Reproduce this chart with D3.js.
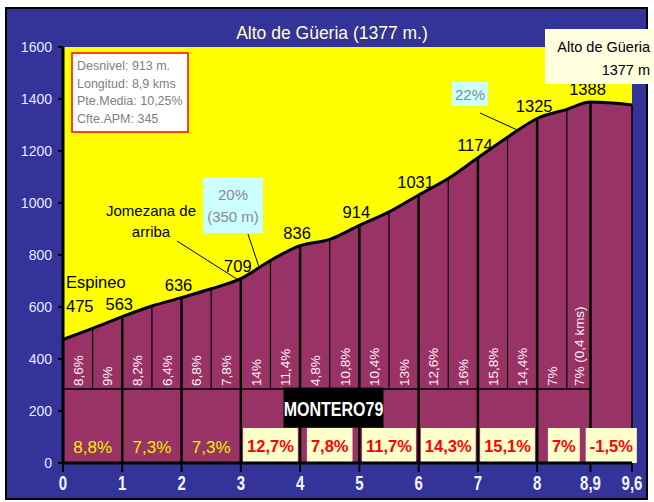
<!DOCTYPE html>
<html>
<head>
<meta charset="utf-8">
<script src="https://cdn.jsdelivr.net/npm/d3@7"></script>
<style>
  body { margin: 0; background: #fff; }
  svg { display: block; font-family: "Liberation Sans", Arial, sans-serif; }
  .narrow { font-family: "Liberation Sans", Arial, sans-serif; font-weight: bold; }
</style>
</head>
<body>
<div id="chart"></div>
<script>
// Profile points (km, elevation)
const profileKm = [0, 0.5, 1, 1.5, 2, 2.5, 3, 3.5, 4, 4.5, 5, 5.5, 6, 6.5, 7, 7.5, 8, 8.5, 8.9, 9.6];
const profileElev = [475, 518, 563, 604, 636, 670, 709, 779, 836, 860, 914, 966, 1031, 1094, 1174, 1253, 1325, 1360, 1388, 1377];

// Labelled elevations at each km mark
const markKm = [0, 1, 2, 3, 4, 5, 6, 7, 8, 8.9];
const markElev = [475, 563, 636, 709, 836, 914, 1031, 1174, 1325, 1388];

// Half-km slopes
const halfStart = [0, 0.5, 1, 1.5, 2, 2.5, 3, 3.5, 4, 4.5, 5, 5.5, 6, 6.5, 7, 7.5, 8, 8.5];
const halfEnd = [0.5, 1, 1.5, 2, 2.5, 3, 3.5, 4, 4.5, 5, 5.5, 6, 6.5, 7, 7.5, 8, 8.5, 8.9];
const halfSlope = ["8,6%", "9%", "8,2%", "6,4%", "6,8%", "7,8%", "14%", "11,4%", "4,8%", "10,8%",
                   "10,4%", "13%", "12,6%", "16%", "15,8%", "14,4%", "7%", "7% (0,4 kms)"];

// Per-km slopes
const kmStart = [0, 1, 2, 3, 4, 5, 6, 7, 8, 8.9];
const kmEnd = [1, 2, 3, 4, 5, 6, 7, 8, 8.9, 9.6];
const kmSlope = ["8,8%", "7,3%", "7,3%", "12,7%", "7,8%", "11,7%", "14,3%", "15,1%", "7%", "-1,5%"];

const xTicks = [0, 1, 2, 3, 4, 5, 6, 7, 8, 8.9, 9.6];
const xTickLabels = ["0", "1", "2", "3", "4", "5", "6", "7", "8", "8,9", "9,6"];
const yTicks = [0, 200, 400, 600, 800, 1000, 1200, 1400, 1600];

const infoLines = ["Desnivel: 913 m.", "Longitud: 8,9 kms", "Pte.Media: 10,25%", "Cfte.APM: 345"];

const W = 654, H = 502;
const svg = d3.select("#chart").append("svg").attr("width", W).attr("height", H);

// frame
svg.append("rect").attr("x", 6).attr("y", 8).attr("width", 641).attr("height", 491)
    .attr("fill", "#333399").attr("stroke", "#000").attr("stroke-width", 2);

const x = d3.scaleLinear().domain([0, 9.6]).range([63, 632]);
const y = d3.scaleLinear().domain([0, 1600]).range([463, 47]);

// title
svg.append("text").attr("x", 332).attr("y", 39).attr("text-anchor", "middle")
    .attr("font-size", 17.5).attr("fill", "#ffffcc").text("Alto de Güeria (1377 m.)");

// plot background
svg.append("rect").attr("x", x(0)).attr("y", y(1600))
    .attr("width", x(9.6) - x(0)).attr("height", y(0) - y(1600)).attr("fill", "#ffff00");

const pts = profileKm.map((k, i) => [k, profileElev[i]]);
const curve = d3.curveMonotoneX;

svg.append("path").datum(pts)
    .attr("fill", "#993366")
    .attr("d", d3.area().x(d => x(d[0])).y0(y(0)).y1(d => y(d[1])).curve(curve));

// elevation lookup (linear between points)
function elevAt(k) {
    const i = d3.bisectRight(profileKm, k) - 1;
    if (i >= profileKm.length - 1) return profileElev[profileElev.length - 1];
    const t = (k - profileKm[i]) / (profileKm[i + 1] - profileKm[i]);
    return profileElev[i] + t * (profileElev[i + 1] - profileElev[i]);
}

const divider = 285;

// horizontal divider
svg.append("line").attr("x1", x(0)).attr("x2", x(8.9))
    .attr("y1", y(divider)).attr("y2", y(divider))
    .attr("stroke", "#000").attr("stroke-width", 1.5);

// half-km thin lines
svg.selectAll("line.half").data(halfStart.filter(k => k % 1 !== 0))
    .join("line").attr("class", "half")
    .attr("x1", d => x(d)).attr("x2", d => x(d))
    .attr("y1", d => y(elevAt(d))).attr("y2", y(divider))
    .attr("stroke", "#000").attr("stroke-width", 1.2);

// km thick lines
svg.selectAll("line.km").data(kmEnd)
    .join("line").attr("class", "km")
    .attr("x1", d => x(d)).attr("x2", d => x(d))
    .attr("y1", d => y(elevAt(d))).attr("y2", y(0))
    .attr("stroke", "#000").attr("stroke-width", d => d === 9.6 ? 1.5 : 2.5);

// profile line
svg.append("path").datum(pts)
    .attr("fill", "none").attr("stroke", "#000").attr("stroke-width", 3)
    .attr("d", d3.line().x(d => x(d[0])).y(d => y(d[1])).curve(curve));

// half-km slope labels (rotated)
svg.selectAll("text.hs").data(halfSlope)
    .join("text").attr("class", "hs")
    .attr("transform", (d, i) => `translate(${x((halfStart[i] + halfEnd[i]) / 2) + 5},${y(divider) - 3}) rotate(-90)`)
    .attr("font-size", 13.5).attr("fill", "#fff0f8").text(d => d);

// per-km slope labels
const kmG = svg.selectAll("g.ks").data(kmSlope).join("g").attr("class", "ks")
    .attr("transform", (d, i) => `translate(${x((kmStart[i] + kmEnd[i]) / 2)},0)`);
kmG.each(function (d, i) {
    const g = d3.select(this);
    if (i < 3) {
        g.append("text").attr("y", 453).attr("text-anchor", "middle")
            .attr("font-size", 17).attr("fill", "#f0f000").text(d);
    } else {
        const r = g.append("rect").attr("fill", "#ffffcc");
        const t = g.append("text").attr("y", 452).attr("text-anchor", "middle")
            .attr("font-size", 16.5).attr("font-weight", "bold").attr("fill", "#ff0000").text(d);
        const w = t.node().getComputedTextLength() + 8;
        r.attr("x", -w / 2).attr("y", 428).attr("width", w).attr("height", 35);
    }
});

// MONTERO79 watermark
svg.append("rect").attr("x", x(3.72)).attr("y", y(290)).attr("width", 100).attr("height", 40).attr("fill", "#000");
svg.append("text").attr("class", "narrow")
    .attr("transform", `translate(${x(3.72) + 50},${y(290) + 28}) scale(0.8,1)`)
    .attr("text-anchor", "middle").attr("font-size", 20).attr("fill", "#fff").text("MONTERO79");

// axes
svg.append("line").attr("x1", x(0)).attr("x2", x(9.6)).attr("y1", y(0)).attr("y2", y(0))
    .attr("stroke", "#000").attr("stroke-width", 3);
svg.append("line").attr("x1", x(0)).attr("x2", x(0)).attr("y1", y(1600)).attr("y2", y(0))
    .attr("stroke", "#000").attr("stroke-width", 3);

svg.selectAll("line.xt").data(xTicks).join("line").attr("class", "xt")
    .attr("x1", d => x(d)).attr("x2", d => x(d)).attr("y1", y(0)).attr("y2", y(0) + 9)
    .attr("stroke", "#000").attr("stroke-width", 2);
svg.selectAll("text.xt").data(xTicks).join("text").attr("class", "xt narrow")
    .attr("transform", d => `translate(${x(d)},490) scale(0.75,1)`)
    .attr("text-anchor", "middle")
    .attr("font-size", 20).attr("fill", "#f4f4ff").text((d, i) => xTickLabels[i]);

svg.selectAll("line.yt").data(yTicks).join("line").attr("class", "yt")
    .attr("x1", x(0) - 5).attr("x2", x(0)).attr("y1", d => y(d)).attr("y2", d => y(d))
    .attr("stroke", "#000").attr("stroke-width", 2);
svg.selectAll("text.yt").data(yTicks).join("text").attr("class", "yt")
    .attr("x", 52).attr("y", d => y(d) + 5).attr("text-anchor", "end")
    .attr("font-size", 14).attr("fill", "#e8e8ff").text(d => d);

// elevation labels
svg.selectAll("text.el").data(markElev).join("text").attr("class", "el")
    .attr("x", (d, i) => i === 0 ? x(0) + 3 : x(markKm[i]) - 3)
    .attr("y", (d, i) => i === 0 ? y(markElev[1]) - 5 : y(d) - 7)
    .attr("text-anchor", (d, i) => i === 0 ? "start" : "middle")
    .attr("font-size", 16.5).attr("fill", "#000").text(d => d);

svg.append("text").attr("x", x(0) + 3).attr("y", y(markElev[1]) - 29)
    .attr("font-size", 16.5).attr("fill", "#000").text("Espineo");

// Jomezana annotation
svg.append("line").attr("x1", 177).attr("y1", 241).attr("x2", x(3) - 3).attr("y2", y(709) + 1)
    .attr("stroke", "#000").attr("stroke-width", 1);
svg.append("text").attr("x", 151).attr("y", 216).attr("text-anchor", "middle")
    .attr("font-size", 15).text("Jomezana de");
svg.append("text").attr("x", 151).attr("y", 237).attr("text-anchor", "middle")
    .attr("font-size", 15).text("arriba");

// 20% box
svg.append("line").attr("x1", 248).attr("y1", 234).attr("x2", x(3.3)).attr("y2", y(elevAt(3.3)) - 2)
    .attr("stroke", "#000").attr("stroke-width", 1);
svg.append("rect").attr("x", 203).attr("y", 178).attr("width", 60).attr("height", 55).attr("fill", "#ccffff");
svg.append("text").attr("x", 233).attr("y", 200).attr("text-anchor", "middle")
    .attr("font-size", 15).attr("fill", "#8a8a8a").text("20%");
svg.append("text").attr("x", 233).attr("y", 222).attr("text-anchor", "middle")
    .attr("font-size", 15).attr("fill", "#8a8a8a").text("(350 m)");

// 22% box
svg.append("line").attr("x1", 480).attr("y1", 113).attr("x2", x(7.65)).attr("y2", y(elevAt(7.65)) - 2)
    .attr("stroke", "#000").attr("stroke-width", 1);
svg.append("rect").attr("x", 452).attr("y", 82).attr("width", 36).attr("height", 24).attr("fill", "#ccffff");
svg.append("text").attr("x", 470).attr("y", 100).attr("text-anchor", "middle")
    .attr("font-size", 15).attr("fill", "#8a8a8a").text("22%");

// info box
svg.append("rect").attr("x", 72).attr("y", 53).attr("width", 116).attr("height", 79)
    .attr("fill", "#fff").attr("stroke", "#ff0000").attr("stroke-width", 1.5);
svg.selectAll("text.info").data(infoLines).join("text").attr("class", "info")
    .attr("x", 77).attr("y", (d, i) => 70 + i * 17.7)
    .attr("font-size", 12.5).attr("fill", "#808080").text(d => d);

// summit box
svg.append("rect").attr("x", 545).attr("y", 29).attr("width", 109).attr("height", 55).attr("fill", "#ffffe0");
svg.append("text").attr("x", 650).attr("y", 52).attr("text-anchor", "end")
    .attr("font-size", 14.5).text("Alto de Güeria");
svg.append("text").attr("x", 650).attr("y", 75).attr("text-anchor", "end")
    .attr("font-size", 14.5).text("1377 m");
</script>
</body>
</html>
